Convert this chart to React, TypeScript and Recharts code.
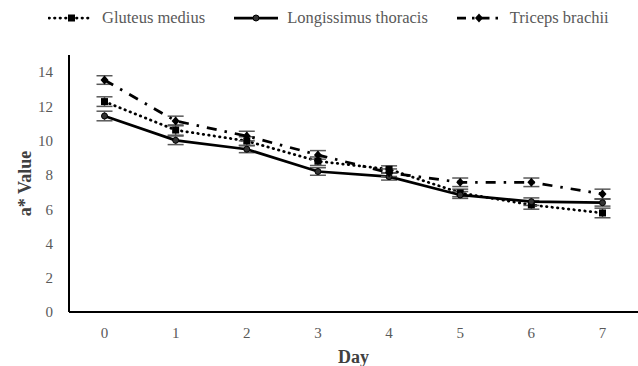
import * as React from "react"
import {
  LineChart,
  Line,
  XAxis,
  YAxis,
  Legend,
  ErrorBar
} from "recharts"

// a* colour values over storage days for three muscles
const days = ["0", "1", "2", "3", "4", "5", "6", "7"]
const gluteus = [12.28, 10.62, 9.98, 8.8, 8.33, 6.95, 6.25, 5.78]
const gluteusErr = [0.28, 0.3, 0.25, 0.25, 0.2, 0.22, 0.25, 0.28]
const longissimus = [11.44, 10.02, 9.5, 8.2, 7.9, 6.83, 6.44, 6.38]
const longissimusErr = [0.28, 0.25, 0.2, 0.22, 0.2, 0.2, 0.22, 0.2]
const triceps = [13.54, 11.15, 10.27, 9.17, 8.13, 7.57, 7.57, 6.89]
const tricepsErr = [0.25, 0.28, 0.28, 0.25, 0.22, 0.25, 0.25, 0.28]
const yTicks = [0, 2, 4, 6, 8, 10, 12, 14]

const data = days.map((day, i) => ({
  day,
  gm: gluteus[i],
  gmErr: gluteusErr[i],
  lt: longissimus[i],
  ltErr: longissimusErr[i],
  tb: triceps[i],
  tbErr: tricepsErr[i]
}))

const FONT = "'Liberation Serif', 'Times New Roman', serif"
const GRAY = "#595959"
const GM_DASH = "0.5 5"
const TB_DASH = "10 8 2.5 8"

const squareDot = (p: any) => (
  <rect key={`gm-${p.index}`} x={p.cx - 3.5} y={p.cy - 3.5} width={7} height={7} fill="#000" />
)
const circleDot = (p: any) => (
  <circle key={`lt-${p.index}`} cx={p.cx} cy={p.cy} r={3} fill="#333" stroke="#000" strokeWidth={1} />
)
const diamondDot = (p: any) => (
  <polygon
    key={`tb-${p.index}`}
    points={`${p.cx},${p.cy - 4.5} ${p.cx + 4},${p.cy} ${p.cx},${p.cy + 4.5} ${p.cx - 4},${p.cy}`}
    fill="#000"
  />
)

const legendItems = [
  { name: "Gluteus medius", dash: GM_DASH, cap: "round", marker: "square" },
  { name: "Longissimus thoracis", dash: undefined, cap: "butt", marker: "circle" },
  { name: "Triceps brachii", dash: "9 6 2.5 6", cap: "butt", marker: "diamond" }
]

function LegendIcon({ dash, cap, marker }: { dash?: string; cap: string; marker: string }) {
  return (
    <svg width={46} height={12} style={{ marginRight: 8 }}>
      <line x1={1} y1={6} x2={45} y2={6} stroke="#000" strokeWidth={2.75} strokeDasharray={dash} strokeLinecap={cap as any} />
      {marker === "square" && <rect x={20} y={2.5} width={7} height={7} fill="#000" />}
      {marker === "circle" && <circle cx={23} cy={6} r={3} fill="#333" stroke="#000" />}
      {marker === "diamond" && <polygon points="23,1.5 27,6 23,10.5 19,6" fill="#000" />}
    </svg>
  )
}

function TopLegend() {
  return (
    <div style={{ display: "flex", alignItems: "center", paddingLeft: 48, gap: 28, fontFamily: FONT, fontSize: 16.5, color: GRAY }}>
      {legendItems.map((item) => (
        <div key={item.name} style={{ display: "flex", alignItems: "center" }}>
          <LegendIcon dash={item.dash} cap={item.cap} marker={item.marker} />
          <span>{item.name}</span>
        </div>
      ))}
    </div>
  )
}

export default function App() {
  return (
    <div style={{ position: "absolute", left: 0, top: 0, width: 638, height: 366, background: "#fff" }}>
      <LineChart width={638} height={366} data={data} margin={{ top: 55, right: 0, bottom: 0, left: 0 }}>
        <XAxis
          dataKey="day"
          padding={{ left: 35.5, right: 35.5 }}
          axisLine={{ stroke: "#000", strokeWidth: 2 }}
          tickLine={false}
          tickMargin={9}
          height={54}
          tick={{ fill: GRAY, fontSize: 15, fontFamily: FONT }}
          label={{ value: "Day", position: "insideBottom", offset: 3, fill: "#404040", fontSize: 18, fontWeight: "bold", fontFamily: FONT }}
        />
        <YAxis
          domain={[0, 15]}
          ticks={yTicks}
          width={69}
          axisLine={{ stroke: "#000", strokeWidth: 2 }}
          tickLine={false}
          tickMargin={10}
          tick={{ fill: GRAY, fontSize: 15, fontFamily: FONT }}
          label={{
            content: (props: any) => {
              const vb = props.viewBox
              const x = vb.x + 25
              const y = vb.y + vb.height / 2
              return (
                <text
                  x={x}
                  y={y}
                  transform={`rotate(-90 ${x} ${y})`}
                  textAnchor="middle"
                  dominantBaseline="central"
                  fill="#404040"
                  fontSize={18}
                  fontWeight="bold"
                  fontFamily={FONT}
                >
                  a* Value
                </text>
              )
            }
          }}
        />
        <Legend
          verticalAlign="middle"
          align="center"
          wrapperStyle={{ top: 8, left: 0, width: 638 }}
          content={() => <TopLegend />}
        />
        <Line
          dataKey="gm"
          stroke="#000"
          strokeWidth={2.75}
          strokeDasharray={GM_DASH}
          strokeLinecap="round"
          dot={squareDot}
          activeDot={false}
          isAnimationActive={false}
        >
          <ErrorBar dataKey="gmErr" width={8} stroke={GRAY} strokeWidth={1.5} direction="y" />
        </Line>
        <Line
          dataKey="lt"
          stroke="#000"
          strokeWidth={2.75}
          dot={circleDot}
          activeDot={false}
          isAnimationActive={false}
        >
          <ErrorBar dataKey="ltErr" width={8} stroke={GRAY} strokeWidth={1.5} direction="y" />
        </Line>
        <Line
          dataKey="tb"
          stroke="#000"
          strokeWidth={2.75}
          strokeDasharray={TB_DASH}
          dot={diamondDot}
          activeDot={false}
          isAnimationActive={false}
        >
          <ErrorBar dataKey="tbErr" width={8} stroke={GRAY} strokeWidth={1.5} direction="y" />
        </Line>
      </LineChart>
    </div>
  )
}
